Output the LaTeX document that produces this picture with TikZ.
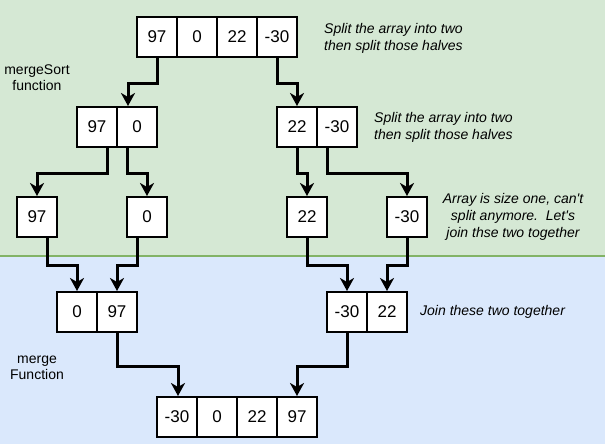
\documentclass[tikz,border=0pt]{standalone}
\usepackage{fontspec}
\setmainfont{Liberation Sans}
\usetikzlibrary{arrows.meta}
\definecolor{grn}{HTML}{D5E8D4}
\definecolor{grnline}{HTML}{82B366}
\definecolor{blu}{HTML}{DAE8FC}
\begin{document}
\begin{tikzpicture}[x=1pt,y=-1pt,
  cell/.style={draw,line width=2pt,fill=white,minimum width=40pt,minimum height=40pt,inner sep=0pt,font=\fontsize{17}{20}\selectfont},
  link/.style={line width=3pt,line join=miter,-{Stealth[length=13pt,width=14pt,inset=4pt]}},
  note/.style={font=\fontsize{14}{16.7}\selectfont\itshape,inner sep=0pt},
  sidetext/.style={font=\fontsize{14}{16}\selectfont,inner sep=0pt,align=center}]
\useasboundingbox (0,0) rectangle (605,444);
% backgrounds
\fill[grn] (0,0) rectangle (605,256);
\fill[blu] (0,256) rectangle (605,444);
\draw[grnline,line width=1.5pt] (0,256) -- (605,256);
% level 1
\node[cell] (a1) at (157,37) {97};
\node[cell] (a2) at (197,37) {0};
\node[cell] (a3) at (237,37) {22};
\node[cell] (a4) at (277,37) {-30};
% level 2
\node[cell] (b1) at (97,127) {97};
\node[cell] (b2) at (137,127) {0};
\node[cell] (c1) at (297,127) {22};
\node[cell] (c2) at (337,127) {-30};
% level 3
\node[cell] (d1) at (37,217) {97};
\node[cell] (d2) at (147,217) {0};
\node[cell] (e1) at (307,217) {22};
\node[cell] (e2) at (407,217) {-30};
% level 4
\node[cell] (f1) at (77,312) {0};
\node[cell] (f2) at (117,312) {97};
\node[cell] (g1) at (347,312) {-30};
\node[cell] (g2) at (387,312) {22};
% level 5
\node[cell] (h1) at (177,417) {-30};
\node[cell] (h2) at (217,417) {0};
\node[cell] (h3) at (257,417) {22};
\node[cell] (h4) at (297,417) {97};
% connectors
\draw[link] (a1.south) -- ++(0,25) -| ([xshift=-9pt]b2.north);
\draw[link] (a4.south) -- ++(0,25) -| (c1.north);
\draw[link] ([xshift=10pt]b1.south) -- ++(0,25) -| (d1.north);
\draw[link] ([xshift=-10pt]b2.south) -- ++(0,25) -| (d2.north);
\draw[link] (c1.south) -- ++(0,25) -| (e1.north);
\draw[link] ([xshift=-10pt]c2.south) -- ++(0,25) -| (e2.north);
\draw[link] ([xshift=10pt]d1.south) -- ++(0,27) -| (f1.north);
\draw[link] ([xshift=-10pt]d2.south) -- ++(0,27) -| (f2.north);
\draw[link] (e1.south) -- ++(0,27) -| (g1.north);
\draw[link] (e2.south) -- ++(0,27) -| (g2.north);
\draw[link] (f2.south) -- ++(0,33) -| ([xshift=1pt]h1.north);
\draw[link] (g1.south) -- ++(0,33) -| (h4.north);
% notes
\node[note,anchor=west,align=left] (n1) at (324,38.5) {Split the array into two\\then split those halves};
\node[note,anchor=west,align=left] (n2) at (374,127.5) {Split the array into two\\then split those halves};
\node[note,align=center] (n3) at (513,217) {Array is size one, can\textquotesingle t\\split anymore.\ \ Let\textquotesingle s\\join thse two together};
\node[note,anchor=west] (n4) at (420,312) {Join these two together};
\node[sidetext] (s1) at (37,78) {mergeSort\\function};
\node[sidetext] (s2) at (37,368) {merge\\Function};
\end{tikzpicture}
\end{document}
